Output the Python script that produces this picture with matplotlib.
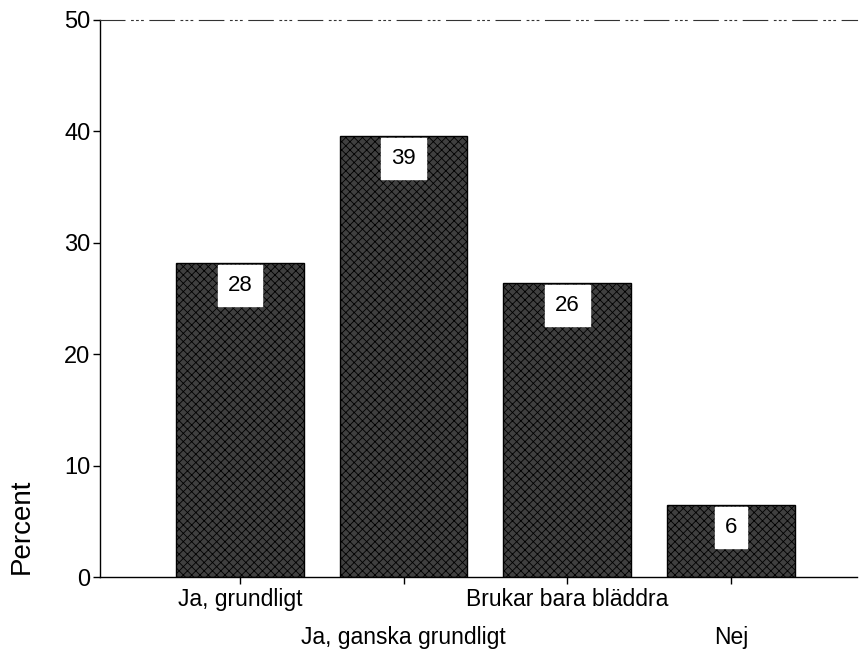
import matplotlib
import matplotlib.pyplot as plt

matplotlib.use('Agg')

# data
categories = ["Ja, grundligt", "Ja, ganska grundligt", "Brukar bara bläddra", "Nej"]
heights = [28.2, 39.6, 26.4, 6.5]
labels = ["28", "39", "26", "6"]

plt.rcParams['font.family'] = ['Liberation Sans', 'DejaVu Sans']
plt.rcParams['hatch.color'] = '#9a9a9a'
plt.rcParams['hatch.linewidth'] = 0.6

fig = plt.figure(figsize=(8.61, 6.55), dpi=100)
ax = fig.add_axes([100 / 861, 78 / 655, 757 / 861, 557 / 655])

x = list(range(len(categories)))
ax.bar(x, heights, width=0.78, color='#404040', edgecolor='black',
       linewidth=1.0, hatch='xxxx')

for i, (h, lab) in enumerate(zip(heights, labels)):
    ax.annotate(lab, xy=(i, h), xytext=(0, -9), textcoords='offset points',
                ha='center', va='top', fontsize=16,
                bbox=dict(boxstyle='square,pad=0.45', fc='white', ec='white'))

ax.set_ylim(0, 50)
ax.set_xlim(-0.855, 3.77)
ax.set_yticks([0, 10, 20, 30, 40, 50])
ax.tick_params(axis='y', labelsize=17, length=5, width=1, pad=2)
ax.set_xticks(x)
ax.set_xticklabels(categories, fontsize=16.5)
ax.tick_params(axis='x', length=5, width=1)
for k, tick in enumerate(ax.xaxis.get_major_ticks()):
    tick.set_pad(3 if k % 2 == 0 else 30)

ax.spines['right'].set_visible(False)
ax.spines['top'].set_linestyle((0, (22, 6, 1.5, 3, 1.5, 3, 1.5, 6)))
ax.spines['top'].set_linewidth(0.8)
ax.spines['top'].set_color('#333333')
ax.spines['left'].set_linewidth(1.0)
ax.spines['bottom'].set_linewidth(1.0)

fig.text(22 / 861, 1 - 526 / 655, "Percent", rotation=90, fontsize=20,
         ha='center', va='center')

fig.savefig('out.png', dpi=100)
